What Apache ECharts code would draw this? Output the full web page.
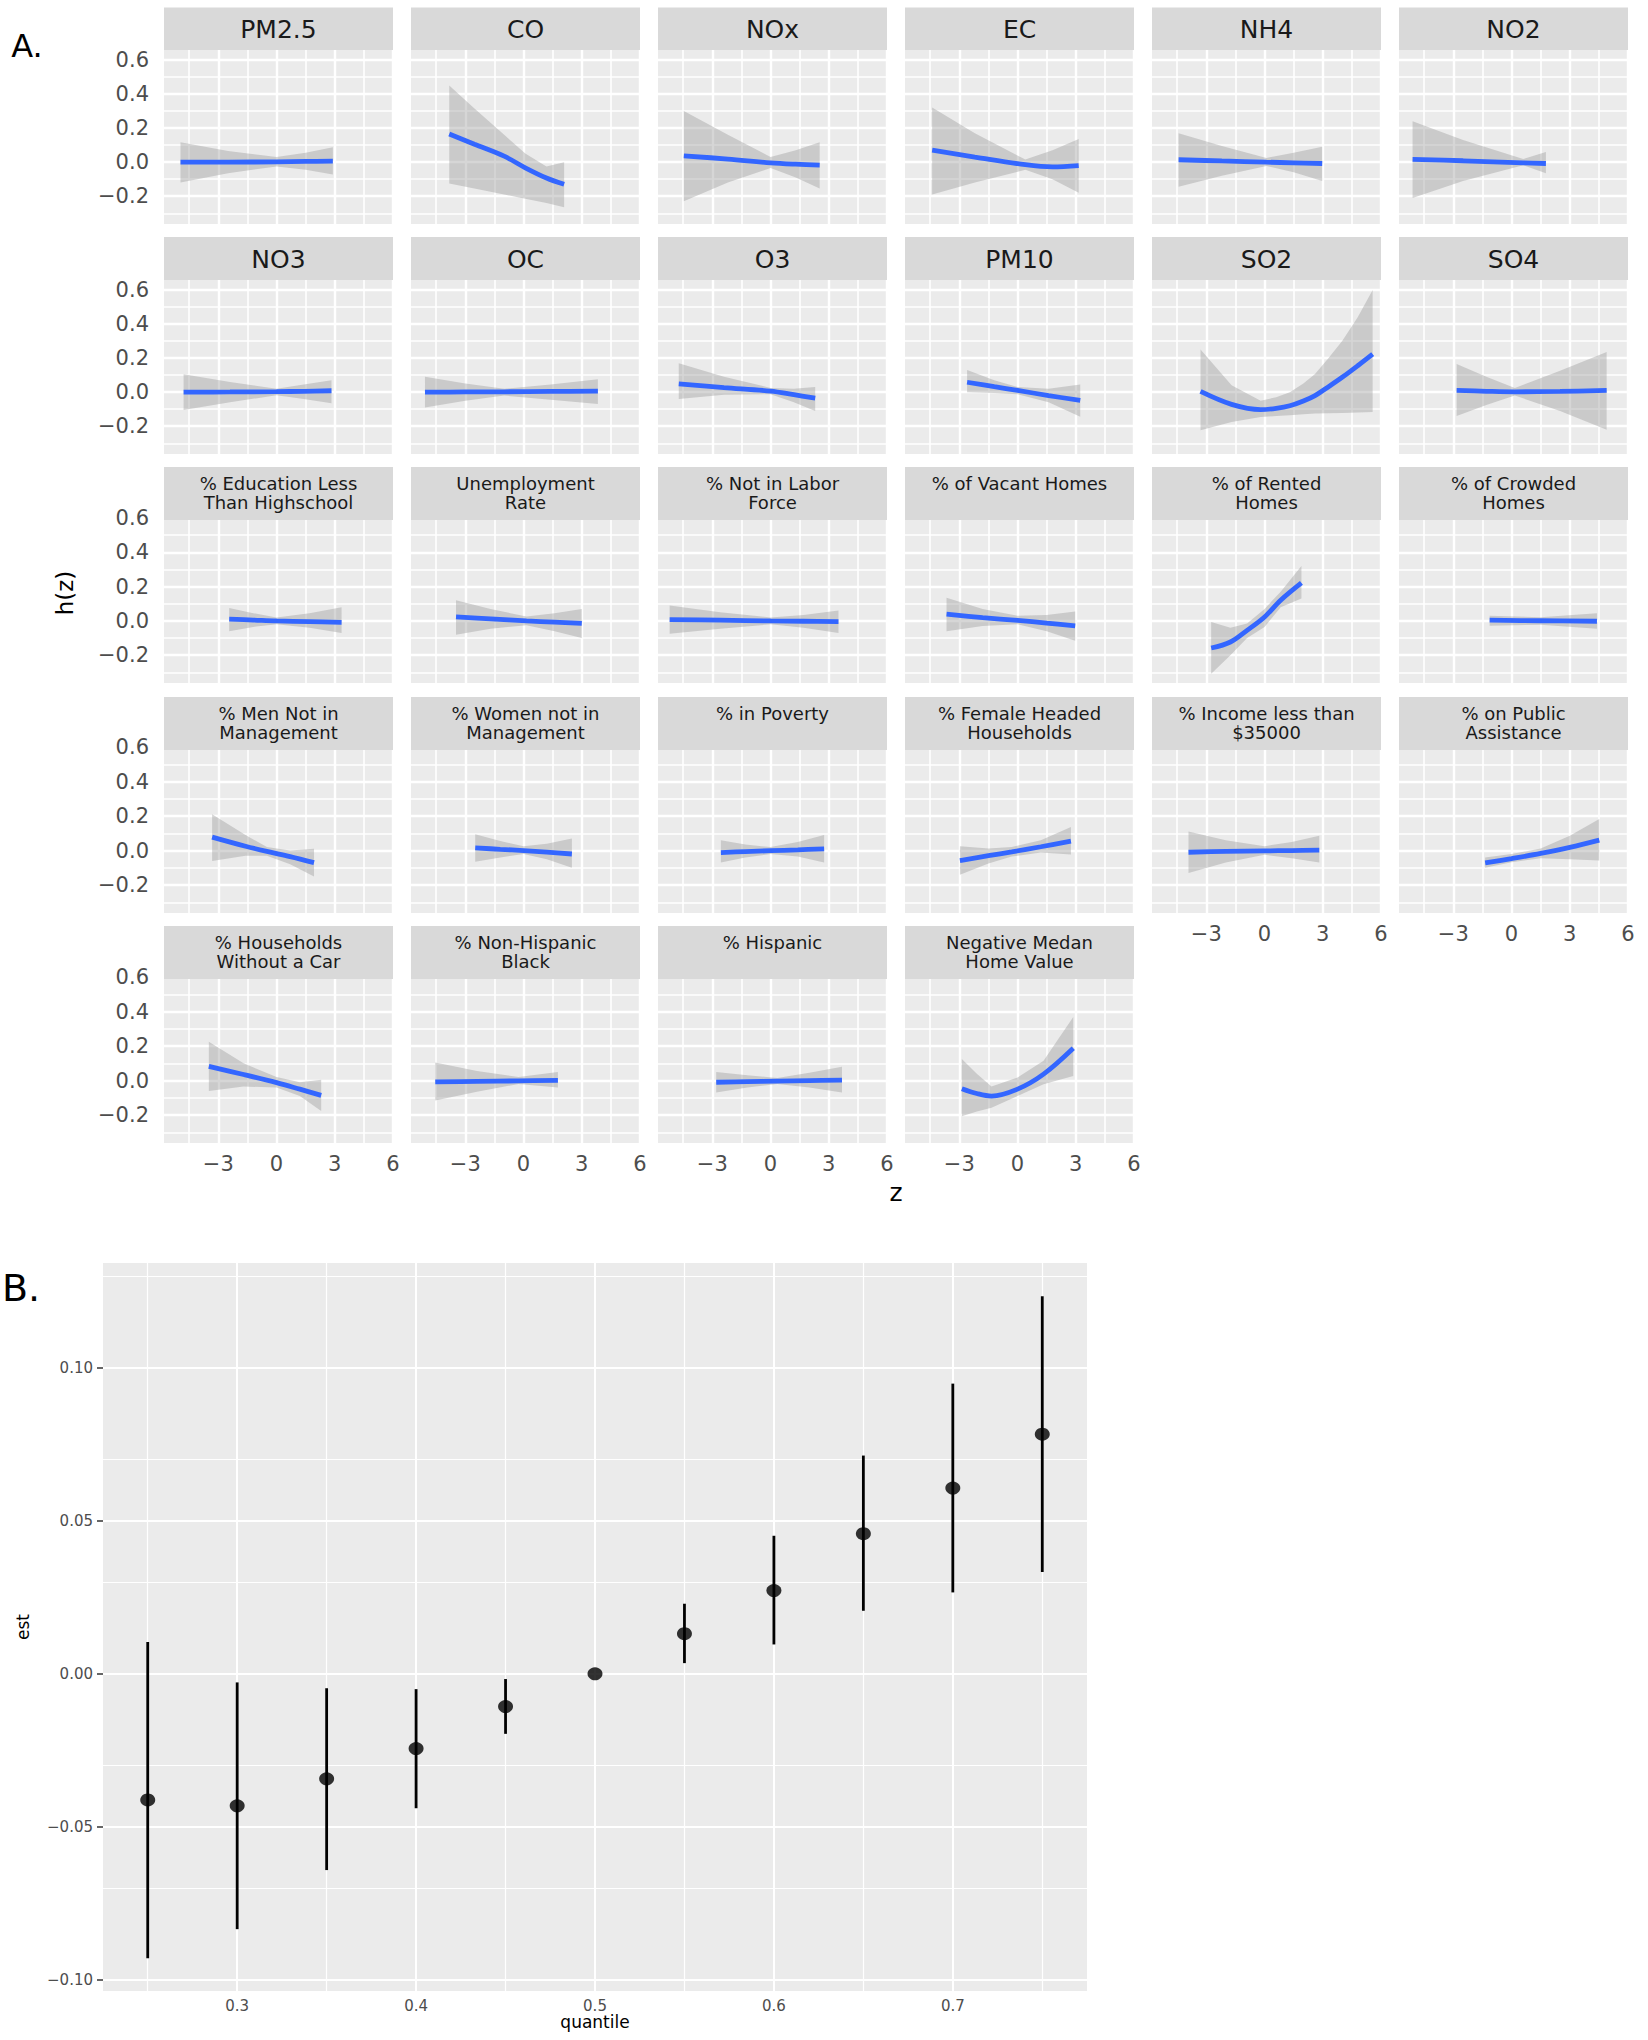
<!DOCTYPE html>
<html>
<head>
<meta charset="utf-8">
<script src="https://cdn.jsdelivr.net/npm/echarts@6/dist/echarts.min.js"></script>
<style>
html,body{margin:0;padding:0;background:#ffffff;}
#chart{width:1648px;height:2040px;}
</style>
</head>
<body>
<div id="chart"></div>
<script>
// ---------------- DATA ----------------
// Part A: panel titles (facet strips), row-major order
const panelTitles = [
  "PM2.5", "CO", "NOx", "EC", "NH4", "NO2",
  "NO3", "OC", "O3", "PM10", "SO2", "SO4",
  "% Education Less\nThan Highschool", "Unemployment\nRate", "% Not in Labor\nForce", "% of Vacant Homes", "% of Rented\nHomes", "% of Crowded\nHomes",
  "% Men Not in\nManagement", "% Women not in\nManagement", "% in Poverty", "% Female Headed\nHouseholds", "% Income less than\n$35000", "% on Public\nAssistance",
  "% Households\nWithout a Car", "% Non-Hispanic\nBlack", "% Hispanic", "Negative Medan\nHome Value"
];

// each panel: [ z values, h(z) estimate, lower CI, upper CI ]
const PM25 = [[-4.95, -2.5, 0, 1.5, 2.9], [0.0, 0.0, 0.002, 0.004, 0.006], [-0.12, -0.065, -0.025, -0.045, -0.072], [0.117, 0.065, 0.03, 0.055, 0.087]];
const CO = [[-3.83, -2.53, -1.0, 0.09, 1.18, 2.09], [0.165, 0.105, 0.035, -0.033, -0.093, -0.13], [-0.125, -0.155, -0.19, -0.215, -0.24, -0.265], [0.45, 0.315, 0.16, 0.05, -0.025, 0.0]];
const NOX = [[-4.47, -2.2, 0, 1.3, 2.53], [0.037, 0.018, -0.004, -0.012, -0.017], [-0.23, -0.12, -0.035, -0.09, -0.155], [0.30, 0.16, 0.03, 0.07, 0.117]];
const EC = [[-4.4, -2.2, 0.4, 1.8, 3.15], [0.07, 0.03, -0.015, -0.028, -0.02], [-0.19, -0.12, -0.045, -0.1, -0.18], [0.32, 0.17, 0.015, 0.07, 0.136]];
const NH4 = [[-4.43, -2.2, 0.1, 1.5, 2.97], [0.014, 0.007, 0.0, -0.004, -0.008], [-0.145, -0.08, -0.022, -0.06, -0.11], [0.17, 0.095, 0.025, 0.055, 0.09]];
const NO2 = [[-5.1, -2.5, 0.6, 1.77], [0.016, 0.008, -0.004, -0.008], [-0.21, -0.11, -0.018, -0.065], [0.24, 0.13, 0.018, 0.06]];
const NO3 = [[-4.79, -2.4, 0, 1.4, 2.83], [0.0, 0.001, 0.003, 0.005, 0.008], [-0.105, -0.06, -0.018, -0.04, -0.065], [0.105, 0.06, 0.02, 0.045, 0.07]];
const OC = [[-5.08, -3, -1, 1.4, 3.83], [0.0, 0.001, 0.002, 0.004, 0.006], [-0.09, -0.05, -0.02, -0.045, -0.07], [0.09, 0.05, 0.02, 0.045, 0.075]];
const O3 = [[-4.73, -2.4, 0, 1.2, 2.3], [0.049, 0.027, 0.006, -0.015, -0.035], [-0.04, -0.015, -0.012, -0.06, -0.11], [0.17, 0.09, 0.025, 0.02, 0.03]];
const PM10 = [[-2.6, -1.2, 0, 1.6, 3.23], [0.058, 0.032, 0.01, -0.02, -0.049], [0.0, -0.005, -0.012, -0.06, -0.145], [0.13, 0.07, 0.03, 0.02, 0.045]];
const SO2 = [[-3.3, -1.7, -0.2, 0.6, 1.3, 2.0, 2.6, 3.3, 4.0, 4.8, 5.57], [0.004, -0.072, -0.103, -0.095, -0.08, -0.052, -0.02, 0.032, 0.087, 0.155, 0.223], [-0.223, -0.175, -0.146, -0.14, -0.136, -0.13, -0.126, -0.124, -0.122, -0.12, -0.117], [0.25, 0.04, -0.05, -0.03, 0.0, 0.05, 0.107, 0.2, 0.30, 0.44, 0.60]];
const SO4 = [[-2.83, -1.3, 0.17, 2.5, 4.9], [0.01, 0.005, 0.002, 0.004, 0.01], [-0.14, -0.075, -0.02, -0.11, -0.22], [0.165, 0.09, 0.025, 0.125, 0.235]];
const EDU = [[-2.44, -1.2, 0, 1.7, 3.35], [0.01, 0.005, 0.0, -0.004, -0.008], [-0.06, -0.035, -0.02, -0.04, -0.07], [0.075, 0.045, 0.02, 0.045, 0.08]];
const UNEMP = [[-3.48, -1.7, 0.15, 1.6, 3.0], [0.024, 0.012, 0.0, -0.007, -0.014], [-0.08, -0.045, -0.025, -0.06, -0.1], [0.12, 0.07, 0.025, 0.045, 0.07]];
const NOTLABOR = [[-5.2, -2.6, 0, 1.7, 3.5], [0.008, 0.004, 0.0, -0.002, -0.004], [-0.075, -0.045, -0.02, -0.04, -0.07], [0.09, 0.05, 0.02, 0.035, 0.06]];
const VACANT = [[-3.66, -1.8, 0, 1.5, 2.97], [0.039, 0.019, 0.003, -0.013, -0.029], [-0.06, -0.03, -0.02, -0.06, -0.115], [0.135, 0.07, 0.03, 0.035, 0.055]];
const RENTED = [[-2.75, -1.76, -0.9, 0, 0.83, 1.9], [-0.158, -0.123, -0.055, 0.023, 0.121, 0.222], [-0.308, -0.2, -0.1, -0.035, 0.08, 0.13], [-0.006, -0.04, -0.015, 0.07, 0.17, 0.32]];
const CROWDED = [[-1.13, 1.5, 4.4], [0.004, 0.001, -0.002], [-0.028, -0.022, -0.045], [0.03, 0.022, 0.045]];
const MENMGMT = [[-3.32, -1.6, -0.5, 0.7, 1.93], [0.078, 0.025, -0.005, -0.035, -0.07], [-0.06, -0.03, -0.03, -0.08, -0.15], [0.21, 0.09, 0.02, 0.0, 0.01]];
const WOMENMGMT = [[-2.49, -1.2, 0, 1.2, 2.49], [0.016, 0.007, 0.0, -0.009, -0.02], [-0.065, -0.04, -0.02, -0.05, -0.1], [0.095, 0.055, 0.025, 0.04, 0.07]];
const POVERTY = [[-2.56, -1.3, 0, 1.4, 2.76], [-0.012, -0.006, -0.001, 0.004, 0.01], [-0.07, -0.04, -0.02, -0.035, -0.07], [0.06, 0.035, 0.02, 0.05, 0.09]];
const FEMALEHH = [[-2.97, -1.5, -0.3, 1.2, 2.75], [-0.058, -0.03, -0.008, 0.022, 0.055], [-0.14, -0.075, -0.035, -0.012, -0.023], [0.025, 0.012, 0.02, 0.06, 0.136]];
const INCOME = [[-3.92, -2, 0, 1.4, 2.82], [-0.01, -0.005, -0.002, 0.0, 0.002], [-0.13, -0.07, -0.025, -0.045, -0.07], [0.11, 0.06, 0.025, 0.05, 0.085]];
const PUBASSIST = [[-1.36, 0, 1.5, 3.0, 4.52], [-0.072, -0.047, -0.017, 0.018, 0.06], [-0.1, -0.068, -0.045, -0.05, -0.058], [-0.04, -0.02, 0.012, 0.085, 0.183]];
const NOCAR = [[-3.49, -1.7, 0, 1.2, 2.3], [0.082, 0.035, -0.012, -0.05, -0.086], [-0.06, -0.035, -0.04, -0.09, -0.177], [0.225, 0.1, 0.02, -0.01, 0.004]];
const NHBLACK = [[-4.55, -2.4, -0.26, 1.77], [-0.008, -0.005, -0.002, 0.001], [-0.115, -0.065, -0.02, -0.04], [0.105, 0.055, 0.02, 0.05]];
const HISPANIC = [[-2.8, -1.2, 0.35, 2.0, 3.68], [-0.01, -0.006, -0.003, 0.0, 0.002], [-0.07, -0.04, -0.02, -0.04, -0.07], [0.05, 0.03, 0.015, 0.045, 0.08]];
const NEGHOME = [[-2.87, -2.1, -1.34, 0, 1.34, 2.87], [-0.047, -0.075, -0.09, -0.05, 0.037, 0.187], [-0.207, -0.18, -0.158, -0.09, -0.021, 0.027], [0.125, 0.04, -0.035, 0.018, 0.115, 0.368]];

const panelData = [PM25, CO, NOX, EC, NH4, NO2, NO3, OC, O3, PM10, SO2, SO4,
  EDU, UNEMP, NOTLABOR, VACANT, RENTED, CROWDED,
  MENMGMT, WOMENMGMT, POVERTY, FEMALEHH, INCOME, PUBASSIST,
  NOCAR, NHBLACK, HISPANIC, NEGHOME];

// Part A tick values
const xTicksA = [-3, 0, 3, 6];
const xMinorA = [-4.5, -1.5, 1.5, 4.5];
const yTicksA = [-0.2, 0, 0.2, 0.4, 0.6];
const yMinorA = [-0.3, -0.1, 0.1, 0.3, 0.5];

// Part B data
const quantile = [0.25, 0.30, 0.35, 0.40, 0.45, 0.50, 0.55, 0.60, 0.65, 0.70, 0.75];
const est = [-0.0412, -0.0431, -0.0343, -0.0244, -0.0107, 0.0, 0.0131, 0.0272, 0.0458, 0.0607, 0.0783];
const estLower = [-0.0929, -0.0834, -0.0641, -0.0439, -0.0196, 0.0, 0.0035, 0.0096, 0.0206, 0.0266, 0.0333];
const estUpper = [0.0104, -0.0028, -0.0047, -0.0050, -0.0017, 0.0, 0.0229, 0.0451, 0.0713, 0.0948, 0.1233];
const xTicksB = [0.3, 0.4, 0.5, 0.6, 0.7];
const xMinorB = [0.25, 0.35, 0.45, 0.55, 0.65, 0.75];
const yTicksB = [-0.1, -0.05, 0, 0.05, 0.1];
const yMinorB = [-0.075, -0.025, 0.025, 0.075, 0.125];

// ---------------- LAYOUT ----------------
const COL_LEFT = [164, 411, 658, 905, 1152, 1399];
const PANEL_W = 229;
const ROWS = [
  { stripTop: 7.5, stripH: 42.5, top: 50, h: 174, yMin: -0.363, yMax: 0.658, two: false },
  { stripTop: 237, stripH: 43, top: 280, h: 174, yMin: -0.363, yMax: 0.658, two: false },
  { stripTop: 467, stripH: 53, top: 518, h: 165, yMin: -0.362, yMax: 0.6, two: true },
  { stripTop: 697, stripH: 53, top: 747, h: 166, yMin: -0.362, yMax: 0.6, two: true },
  { stripTop: 926, stripH: 53, top: 977, h: 166, yMin: -0.362, yMax: 0.6, two: true }
];
const X_MIN = -5.8, X_MAX = 6.0;
const FONT = "DejaVu Sans";
const MINUS = "\u2212";

function fmt(v, d) {
  const s = Math.abs(v).toFixed(d);
  return (v < -1e-9 ? MINUS : "") + s;
}

function gridLines(xMaj, xMin, yMaj, yMin, wMaj, wMin) {
  const out = [];
  xMin.forEach(v => out.push({ xAxis: v, lineStyle: { color: "#ffffff", width: wMin, type: "solid" } }));
  yMin.forEach(v => out.push({ yAxis: v, lineStyle: { color: "#ffffff", width: wMin, type: "solid" } }));
  xMaj.forEach(v => out.push({ xAxis: v, lineStyle: { color: "#ffffff", width: wMaj, type: "solid" } }));
  yMaj.forEach(v => out.push({ yAxis: v, lineStyle: { color: "#ffffff", width: wMaj, type: "solid" } }));
  return out;
}

function bandRenderer(rows) {
  return function (params, api) {
    if (params.dataIndex !== 0) return null;
    const up = rows.map(r => api.coord([r[0], r[2]]));
    const dn = rows.slice().reverse().map(r => api.coord([r[0], r[1]]));
    return {
      type: "polygon",
      silent: true,
      shape: { points: up.concat(dn) },
      style: { fill: "rgba(153,153,153,0.4)" }
    };
  };
}

const grids = [], xAxes = [], yAxes = [], series = [], graphics = [];

panelData.forEach((d, i) => {
  const r = Math.floor(i / 6), c = i % 6, R = ROWS[r];
  const showY = c === 0;
  const showX = r === 4 || (r === 3 && c >= 4);
  grids.push({
    left: COL_LEFT[c], top: R.top, width: PANEL_W, height: R.h,
    show: true, backgroundColor: "#EBEBEB", borderWidth: 0,
    containLabel: false, outerBoundsMode: "none"
  });
  xAxes.push({
    gridIndex: i, type: "value", min: X_MIN, max: X_MAX,
    axisLine: { show: false }, splitLine: { show: false }, minorSplitLine: { show: false },
    axisTick: { show: showX, customValues: xTicksA, length: 6, lineStyle: { color: "#333333", width: 2 } },
    axisLabel: { show: showX, customValues: xTicksA, formatter: v => fmt(v, 0), color: "#4D4D4D", fontSize: 21, fontFamily: FONT, margin: 10 }
  });
  yAxes.push({
    gridIndex: i, type: "value", min: R.yMin, max: R.yMax,
    axisLine: { show: false }, splitLine: { show: false }, minorSplitLine: { show: false },
    axisTick: { show: showY, customValues: yTicksA, length: 6, lineStyle: { color: "#333333", width: 2 } },
    axisLabel: { show: showY, customValues: yTicksA, formatter: v => fmt(v, 1), color: "#4D4D4D", fontSize: 21, fontFamily: FONT, margin: 15 }
  });
  // panel grid lines
  series.push({
    type: "line", xAxisIndex: i, yAxisIndex: i, data: [], silent: true, z: 1,
    markLine: {
      silent: true, z: 1, symbol: ["none", "none"], label: { show: false }, animation: false,
      emphasis: { disabled: true },
      data: gridLines(xTicksA, xMinorA, yTicksA, yMinorA, 2.4, 1.6)
    }
  });
  // confidence band
  const rows = d[0].map((z, k) => [z, d[2][k], d[3][k]]);
  series.push({
    type: "custom", xAxisIndex: i, yAxisIndex: i, z: 2, silent: true, clip: true,
    data: rows, encode: { x: 0, y: [1, 2] }, renderItem: bandRenderer(rows)
  });
  // smooth estimate
  series.push({
    type: "line", xAxisIndex: i, yAxisIndex: i, z: 3, silent: true,
    data: d[0].map((z, k) => [z, d[1][k]]),
    smooth: 0.35, symbol: "none",
    lineStyle: { color: "#3366FF", width: 4.8, cap: "butt" }
  });
  // facet strip
  const sx = COL_LEFT[c];
  graphics.push({
    type: "rect", z: 100, silent: true,
    shape: { x: sx, y: R.stripTop, width: PANEL_W, height: R.stripH },
    style: { fill: "#D9D9D9" }
  });
  if (R.two) {
    graphics.push({
      type: "text", z: 101, silent: true, x: sx + PANEL_W / 2, y: R.stripTop + 6.5,
      style: { text: panelTitles[i], fill: "#1A1A1A", fontSize: 18, fontFamily: FONT, align: "center", verticalAlign: "top", lineHeight: 19.5 }
    });
  } else {
    graphics.push({
      type: "text", z: 101, silent: true, x: sx + PANEL_W / 2, y: R.stripTop + R.stripH / 2 + 1,
      style: { text: panelTitles[i], fill: "#1A1A1A", fontSize: 25, fontFamily: FONT, align: "center", verticalAlign: "middle" }
    });
  }
});

// ---------------- PART B ----------------
const gB = grids.length;
grids.push({ left: 103, top: 1263, width: 984, height: 728, show: true, backgroundColor: "#EBEBEB", borderWidth: 0, containLabel: false, outerBoundsMode: "none" });
xAxes.push({
  gridIndex: gB, type: "value", min: 0.225, max: 0.775,
  name: "quantile", nameLocation: "middle", nameGap: 20,
  nameTextStyle: { color: "#000000", fontSize: 17, fontFamily: FONT },
  axisLine: { show: false }, splitLine: { show: false },
  axisTick: { show: true, customValues: xTicksB, length: 6, lineStyle: { color: "#333333", width: 1.5 } },
  axisLabel: { show: true, customValues: xTicksB, formatter: v => fmt(v, 1), color: "#4D4D4D", fontSize: 15, fontFamily: FONT, margin: 7 }
});
yAxes.push({
  gridIndex: gB, type: "value", min: -0.1036, max: 0.1342,
  name: "est", nameLocation: "middle", nameGap: 72, nameRotate: 90,
  nameTextStyle: { color: "#000000", fontSize: 17, fontFamily: FONT },
  axisLine: { show: false }, splitLine: { show: false },
  axisTick: { show: true, customValues: yTicksB, length: 6, lineStyle: { color: "#333333", width: 1.5 } },
  axisLabel: { show: true, customValues: yTicksB, formatter: v => fmt(v, 2), color: "#4D4D4D", fontSize: 15, fontFamily: FONT, margin: 10 }
});
series.push({
  type: "line", xAxisIndex: gB, yAxisIndex: gB, data: [], silent: true, z: 1,
  markLine: {
    silent: true, z: 1, symbol: ["none", "none"], label: { show: false }, animation: false,
    emphasis: { disabled: true },
    data: gridLines(xTicksB, xMinorB, yTicksB, yMinorB, 2, 1.2)
  }
});
series.push({
  type: "custom", xAxisIndex: gB, yAxisIndex: gB, z: 3, silent: true,
  data: quantile.map((q, k) => [q, estLower[k], estUpper[k]]),
  encode: { x: 0, y: [1, 2] },
  renderItem: function (params, api) {
    const a = api.coord([api.value(0), api.value(1)]);
    const b = api.coord([api.value(0), api.value(2)]);
    return { type: "line", shape: { x1: a[0], y1: a[1], x2: b[0], y2: b[1] }, style: { stroke: "#000000", lineWidth: 2.8 } };
  }
});
series.push({
  type: "scatter", xAxisIndex: gB, yAxisIndex: gB, z: 4, silent: true,
  data: quantile.map((q, k) => [q, est[k]]),
  symbol: "circle", symbolSize: [15, 13],
  itemStyle: { color: "#000000" }
});

// ---------------- overall labels ----------------
graphics.push({ type: "text", z: 101, x: 27, y: 46, silent: true,
  style: { text: "A.", fill: "#000000", fontSize: 32, fontFamily: FONT, align: "center", verticalAlign: "middle" } });
graphics.push({ type: "text", z: 101, x: 21, y: 1288, silent: true,
  style: { text: "B.", fill: "#000000", fontSize: 38, fontFamily: FONT, align: "center", verticalAlign: "middle" } });
graphics.push({ type: "text", z: 101, x: 65, y: 593, rotation: Math.PI / 2, silent: true,
  style: { text: "h(z)", fill: "#000000", fontSize: 23, fontFamily: FONT, align: "center", verticalAlign: "middle" } });
graphics.push({ type: "text", z: 101, x: 896, y: 1192, silent: true,
  style: { text: "z", fill: "#000000", fontSize: 25, fontFamily: FONT, align: "center", verticalAlign: "middle" } });

const chart = echarts.init(document.getElementById("chart"), null, { renderer: "svg", width: 1648, height: 2040 });
chart.setOption({
  animation: false,
  backgroundColor: "#ffffff",
  grid: grids,
  xAxis: xAxes,
  yAxis: yAxes,
  series: series,
  graphic: { elements: graphics }
});
</script>
</body>
</html>
